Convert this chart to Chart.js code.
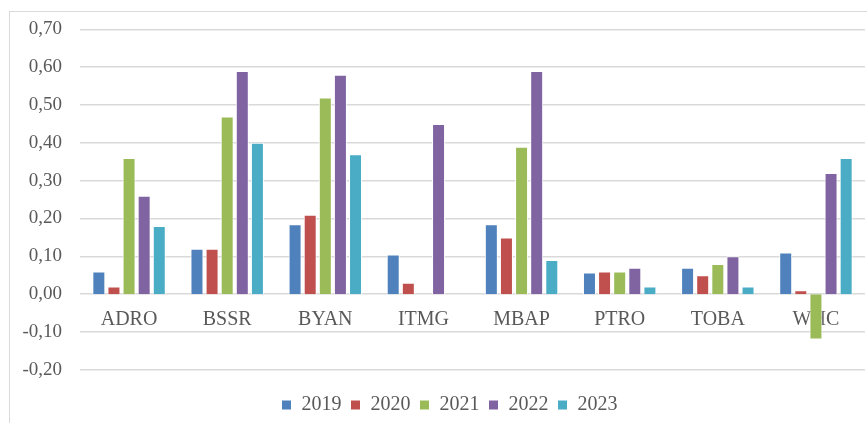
<!DOCTYPE html>
<html>
<head>
<meta charset="utf-8">
<script src="https://cdn.jsdelivr.net/npm/chart.js@4"></script>
<style>
  html, body { margin: 0; padding: 0; background: #fff; }
  #wrap { position: relative; width: 867px; height: 423px; }
  #frame { position: absolute; left: 9px; top: 11px; right: -2px; bottom: -2px;
           border-left: 1px solid #d9d9d9; border-top: 1px solid #d9d9d9; }
  canvas { position: absolute; left: 0; top: 0; }
</style>
</head>
<body>
<div id="wrap">
  <div id="frame"></div>
  <canvas id="chart" width="867" height="423"></canvas>
</div>
<script>
// Kategorie (emiten) i lata
var companies = ['ADRO', 'BSSR', 'BYAN', 'ITMG', 'MBAP', 'PTRO', 'TOBA', 'WHC'];
var years = ['2019', '2020', '2021', '2022', '2023'];

// Wartości
var values2019 = [0.06, 0.12, 0.185, 0.105, 0.185, 0.057, 0.07, 0.11];
var values2020 = [0.02, 0.12, 0.21, 0.03, 0.15, 0.06, 0.05, 0.01];
var values2021 = [0.36, 0.47, 0.52, null, 0.39, 0.06, 0.08, -0.12];
var values2022 = [0.26, 0.59, 0.58, 0.45, 0.59, 0.07, 0.10, 0.32];
var values2023 = [0.18, 0.40, 0.37, null, 0.09, 0.02, 0.02, 0.36];

var seriesValues = [values2019, values2020, values2021, values2022, values2023];
var seriesColors = ['#4f81bd', '#c0504d', '#9bbb59', '#8064a2', '#4bacc6'];

var fontFamily = '"Liberation Serif", "Times New Roman", serif';

var datasets = years.map(function(year, i) {
    return {
        label: year,
        data: seriesValues[i],
        backgroundColor: seriesColors[i],
        borderColor: '#ffffff',
        borderWidth: 1,
        categoryPercentage: 0.77,
        barPercentage: 0.86
    };
});

// Przesunięcie legendy w prawo (w oryginale nie jest wyśrodkowana względem płótna)
var legendShift = {
    id: 'legendShift',
    afterLayout: function(chart) {
        chart.legend.left += 12;
        chart.legend.right += 12;
    }
};

var ctx = document.getElementById('chart').getContext('2d');
var chart = new Chart(ctx, {
    type: 'bar',
    data: {
        labels: companies,
        datasets: datasets
    },
    plugins: [legendShift],
    options: {
        responsive: false,
        animation: false,
        layout: {
            padding: { left: 10, right: 2, top: 29, bottom: -2 }
        },
        plugins: {
            legend: {
                position: 'bottom',
                // pusty tytuł jako odstęp między wykresem a legendą
                title: {
                    display: true,
                    text: ' ',
                    font: { size: 1 },
                    padding: { top: 15, bottom: 0 }
                },
                labels: {
                    boxWidth: 10,
                    boxHeight: 10,
                    padding: 9,
                    color: '#595959',
                    font: { family: fontFamily, size: 20 }
                }
            },
            tooltip: { enabled: false }
        },
        scales: {
            x: {
                position: { y: 0 },
                grid: { display: false },
                border: { display: false },
                ticks: {
                    color: '#595959',
                    padding: 6,
                    font: { family: fontFamily, size: 20 }
                }
            },
            y: {
                min: -0.2,
                max: 0.7,
                afterFit: function(scale) { scale.width = 70; },
                grid: { color: '#d9d9d9', lineWidth: 1.5, drawTicks: false },
                border: { display: false },
                ticks: {
                    stepSize: 0.1,
                    padding: 18,
                    color: '#595959',
                    font: { family: fontFamily, size: 19 },
                    callback: function(value) {
                        var v = Math.abs(value) < 1e-9 ? 0 : value;
                        return v.toFixed(2).replace('.', ',');
                    }
                }
            }
        }
    }
});
</script>
</body>
</html>
